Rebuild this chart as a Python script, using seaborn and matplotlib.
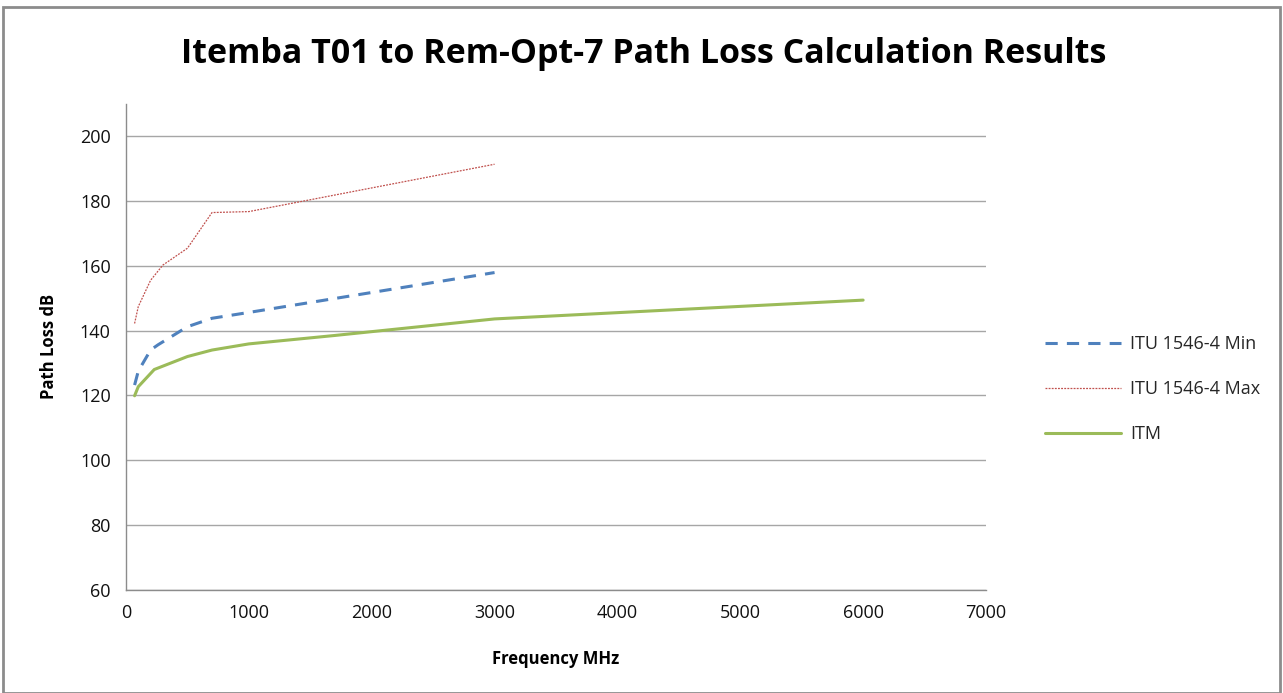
import numpy as np
import pandas as pd
import seaborn as sns
from matplotlib import pyplot as plt
from matplotlib.patches import Rectangle

# data
itu_min_freq = [70, 100, 200, 260, 500, 700, 1000, 3000]
itu_min_loss = [123.2, 127.5, 134.0, 135.6, 141.2, 143.8, 145.6, 157.9]

itu_max_freq = [70, 100, 200, 300, 500, 700, 1000, 3000]
itu_max_loss = [142.2, 147.4, 155.5, 160.2, 165.4, 176.4, 176.7, 191.3]

itm_freq = [70, 100, 230, 500, 700, 1000, 1700, 3000, 6000]
itm_loss = [119.9, 122.7, 128.0, 132.0, 134.0, 135.9, 138.5, 143.6, 149.4]

series_names = ['ITU 1546-4 Min', 'ITU 1546-4 Max', 'ITM']
y_ticks = [60, 80, 100, 120, 140, 160, 180, 200]
x_ticks = [0, 1000, 2000, 3000, 4000, 5000, 6000, 7000]

sns.set_style('white')
plt.rcParams['font.family'] = ['Open Sans', 'DejaVu Sans']

fig = plt.figure(figsize=(12.83, 6.93), dpi=100)
ax = fig.add_axes([0.0982, 0.1486, 0.6703, 0.7019])

# frame round the whole picture
fig.patches.append(Rectangle((0.002, 0.0), 0.996, 0.99, transform=fig.transFigure,
                             fill=False, edgecolor='#8c8c8c', linewidth=2))

sns.lineplot(x=itu_min_freq, y=itu_min_loss, ax=ax, color='#4F81BD', linewidth=2.2,
             linestyle=(0, (4, 3)), label=series_names[0])
sns.lineplot(x=itu_max_freq, y=itu_max_loss, ax=ax, color='#C0504D', linewidth=0.9,
             linestyle=(0, (1.5, 1)), label=series_names[1])
sns.lineplot(x=itm_freq, y=itm_loss, ax=ax, color='#9BBB59', linewidth=2.2,
             linestyle='-', label=series_names[2])

ax.set_xlim(0, 7000)
ax.set_ylim(60, 210)
ax.set_xticks(x_ticks)
ax.set_yticks(y_ticks)
ax.yaxis.grid(True, color='#a6a6a6', linewidth=1)
ax.set_axisbelow(True)

for side in ['top', 'right']:
    ax.spines[side].set_visible(False)
for side in ['left', 'bottom']:
    ax.spines[side].set_color('#8c8c8c')
    ax.spines[side].set_linewidth(1)

ax.tick_params(axis='x', direction='out', length=6, color='#8c8c8c', labelsize=13,
               labelcolor='#111111', pad=4)
ax.tick_params(axis='y', direction='out', length=5, color='#8c8c8c', labelsize=13,
               labelcolor='#111111', pad=6)
ax.tick_params(axis='y', left=False)

ax.set_xlabel('Frequency MHz', fontsize=12, fontweight='bold', labelpad=20, color='black')
ax.set_ylabel('Path Loss dB', fontsize=12, fontweight='bold', labelpad=16, color='black')

fig.text(0.502, 0.922, 'Itemba T01 to Rem-Opt-7 Path Loss Calculation Results',
         ha='center', va='center', fontsize=24.5, fontweight='bold', color='black')

ax.legend(loc='center left', bbox_to_anchor=(1.05, 0.413), frameon=False, fontsize=13,
          handlelength=4.2, handletextpad=0.5, labelspacing=1.5)

fig.savefig('out.png', dpi=100)
